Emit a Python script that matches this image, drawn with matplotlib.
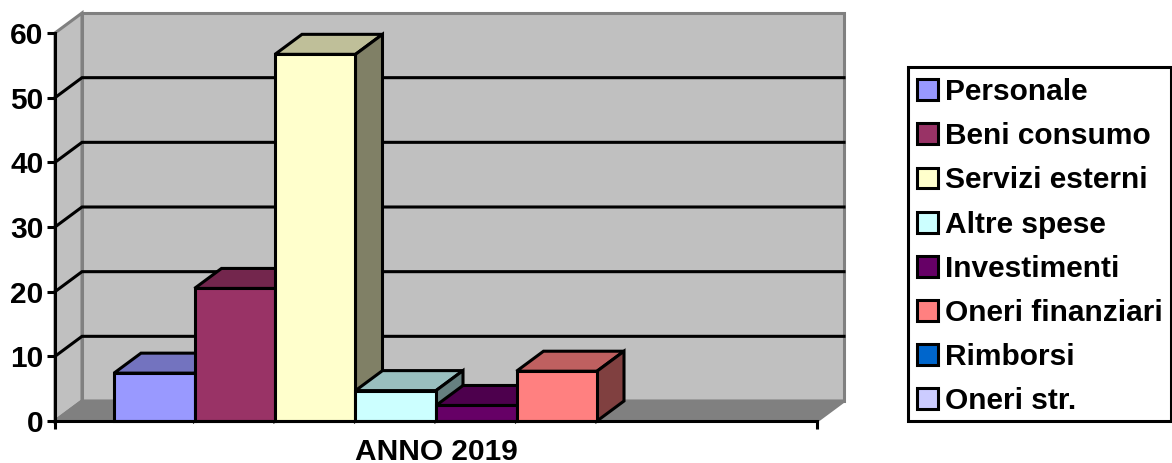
#!/usr/bin/env python
"""Bar chart with a fake 3D look, ANNO 2019"""
import matplotlib
matplotlib.use('Agg')
import matplotlib.pyplot as plt
from matplotlib.patches import Patch, Polygon, Rectangle

plt.rcParams['font.family'] = ['Liberation Sans', 'DejaVu Sans']
plt.rcParams['font.weight'] = 'bold'

NAMES = ['Personale', 'Beni consumo', 'Servizi esterni', 'Altre spese',
         'Investimenti', 'Oneri finanziari', 'Rimborsi', 'Oneri str.']
VALUES = [7.4, 20.5, 56.7, 4.7, 2.4, 7.7, 0, 0]
COLORS = ['#9999FF', '#993366', '#FFFFCC', '#CCFFFF',
          '#660066', '#FF8080', '#0066CC', '#CCCCFF']
YTICKS = [0, 10, 20, 30, 40, 50, 60]
CATEGORY = 'ANNO 2019'

W, H = 1172, 463
# depth of the 3D box, in data units
DX = 27 / 80.5
DY = 20 / 6.467
LW = 2.2
FONT = 21.5


def shade(color, factor):
    r, g, b = matplotlib.colors.to_rgb(color)
    return (r * factor, g * factor, b * factor)


def poly(ax, pts, face, edge='black', lw=LW, z=2):
    ax.add_patch(Polygon(pts, closed=True, facecolor=face, edgecolor=edge,
                         linewidth=lw, joinstyle='miter', zorder=z, clip_on=False))


def draw_bar(ax, left, value, color, z):
    right = left + 1
    poly(ax, [(left, value), (left + DX, value + DY), (right + DX, value + DY), (right, value)],
         shade(color, 0.75), z=z)
    poly(ax, [(right, 0), (right + DX, DY), (right + DX, value + DY), (right, value)],
         shade(color, 0.5), z=z)
    poly(ax, [(left, 0), (left, value), (right, value), (right, 0)], color, z=z)


fig = plt.figure(figsize=(W / 100, H / 100), dpi=100)
ax = fig.add_axes([55 / W, (H - 421) / H, 762 / W, 388 / H])
x0, x1 = -59 / 80.5, 8 + 59 / 80.5
ax.set_xlim(x0, x1)
ax.set_ylim(0, 60)
ax.patch.set_visible(False)

# walls and floor
poly(ax, [(x0, 0), (x0 + DX, DY), (x0 + DX, 60 + DY), (x0, 60)], '#C0C0C0', '#808080', z=0)
poly(ax, [(x0 + DX, DY), (x1 + DX, DY), (x1 + DX, 60 + DY), (x0 + DX, 60 + DY)], '#C0C0C0', '#808080', z=0)
poly(ax, [(x0, 0), (x0 + DX, DY), (x1 + DX, DY), (x1, 0)], '#808080', '#808080', z=0)

# gridlines run along the side wall and then the back wall
for tick in YTICKS[1:-1]:
    ax.plot([x0, x0 + DX, x1 + DX], [tick, tick + DY, tick + DY], color='black',
            lw=LW, zorder=1, clip_on=False, solid_joinstyle='miter')

for i, (value, color) in enumerate(zip(VALUES, COLORS)):
    if value > 0:
        draw_bar(ax, i, value, color, 2 + i)

for side in ('top', 'right'):
    ax.spines[side].set_visible(False)
for side in ('left', 'bottom'):
    ax.spines[side].set_linewidth(LW)
    ax.spines[side].set_zorder(20)

ax.set_yticks(YTICKS)
ax.tick_params(axis='y', labelsize=FONT, width=LW, length=5.8, pad=2.5)
ax.set_xticks([x0, x1])
ax.set_xticklabels(['', ''])
ax.tick_params(axis='x', which='major', width=LW, length=6)
ax.set_xticks([(x0 + x1) / 2], [CATEGORY], minor=True)
ax.tick_params(axis='x', which='minor', length=0, labelsize=FONT, pad=12.5)

# legend box drawn apart so the rows can sit a little low inside it
fig.add_artist(Rectangle((908 / W, (H - 421) / H), 263 / W, 354 / H, transform=fig.transFigure,
                         facecolor='white', edgecolor='black', linewidth=LW))
handles = [Patch(facecolor=c, edgecolor='black', linewidth=LW) for c in COLORS]
leg = fig.legend(handles, NAMES, loc='upper left', frameon=False,
                 bbox_to_anchor=(909 / W, (H - 70) / H),
                 bbox_transform=fig.transFigure,
                 fontsize=FONT, borderaxespad=0, borderpad=0.276, labelspacing=0.54,
                 handlelength=0.7, handleheight=0.7, handletextpad=0.23)

fig.savefig('out.png', dpi=100)
